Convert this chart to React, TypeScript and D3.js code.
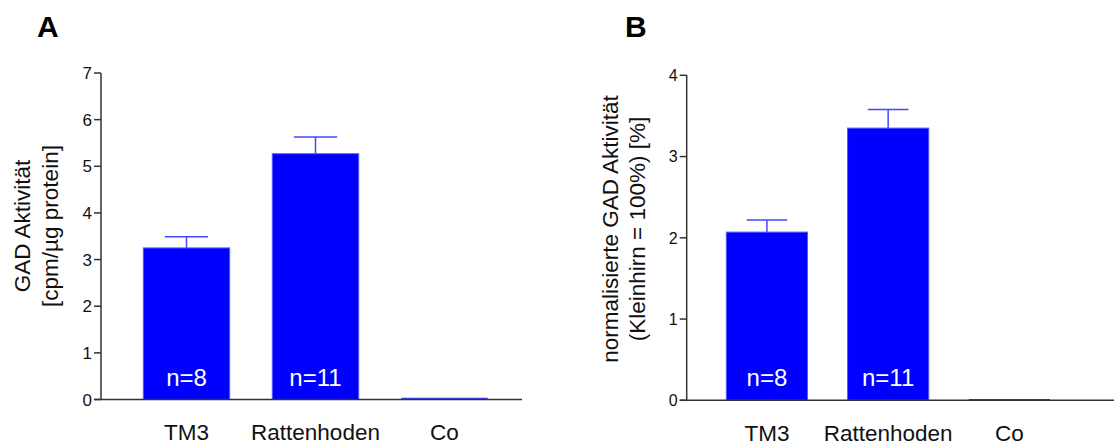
import React from "react";
import * as d3 from "d3";

// categories shared by both panels
const categories = ["TM3", "Rattenhoden", "Co"];
const nLabels = ["n=8", "n=11", ""];

// panel A: GAD activity [cpm/µg protein]
const valuesA = [3.25, 5.27, 0.02];
const errorsA = [0.24, 0.36, 0];
const ticksA = [0, 1, 2, 3, 4, 5, 6, 7];

// panel B: normalised GAD activity (Kleinhirn = 100%) [%]
const valuesB = [2.07, 3.35, 0.005];
const errorsB = [0.15, 0.23, 0];
const ticksB = [0, 1, 2, 3, 4];

const FONT = "Liberation Sans, Arial, Helvetica, sans-serif";
const BAR = "#0000ff";

type PanelProps = {
  letter: string;
  letterX: number;
  values: number[];
  errors: number[];
  ticks: number[];
  yMax: number;
  axisX: number;
  top: number;
  bottom: number;
  xRange: [number, number];
  axisEnd: number;
  tickFont: number;
  titleLines: string[];
  titleX: number[];
  titleY: number;
  catY: number;
  coColor: string;
};

function Panel(p: PanelProps) {
  const y = d3.scaleLinear().domain([0, p.yMax]).range([p.bottom, p.top]);
  const x = d3.scaleBand().domain(categories).range(p.xRange).paddingInner(0.33).paddingOuter(0);
  const bw = x.bandwidth();

  return (
    <g>
      <text x={p.letterX} y={37} fontSize={30} fontWeight="bold" fontFamily={FONT}>
        {p.letter}
      </text>

      {/* y title */}
      {p.titleLines.map((line, i) => (
        <text
          key={i}
          transform={`translate(${p.titleX[i]},${p.titleY}) rotate(-90)`}
          textAnchor="middle"
          fontSize={22.5}
          fontFamily={FONT}
          fill="#111"
        >
          {line}
        </text>
      ))}

      {/* bars */}
      {categories.map((c, i) => {
        const x0 = x(c)!;
        const yTop = y(p.values[i]);
        const h = p.bottom - yTop;
        const cx = x0 + bw / 2;
        if (c === "Co") {
          return (
            <line key={c} x1={x0} x2={x0 + bw} y1={yTop} y2={yTop} stroke={p.coColor} strokeWidth={1.5} />
          );
        }
        const yErr = y(p.values[i] + p.errors[i]);
        return (
          <g key={c}>
            <line x1={cx} x2={cx} y1={yTop} y2={yErr} stroke="#4646ff" strokeWidth={1.5} />
            <line x1={cx - bw / 4} x2={cx + bw / 4} y1={yErr} y2={yErr} stroke="#4646ff" strokeWidth={1.5} />
            <rect x={x0} y={yTop} width={bw} height={h} fill={BAR} stroke="#5a5aff" strokeWidth={1} />
            <text
              x={cx}
              y={p.bottom - 14}
              textAnchor="middle"
              fontSize={24}
              fill="#fff"
              fontFamily={FONT}
            >
              {nLabels[i]}
            </text>
          </g>
        );
      })}

      {/* y axis */}
      <line x1={p.axisX} x2={p.axisX} y1={p.top} y2={p.bottom} stroke="#333" strokeWidth={1.5} />
      {p.ticks.map((t) => (
        <g key={t}>
          <line x1={p.axisX - 7} x2={p.axisX} y1={y(t)} y2={y(t)} stroke="#333" strokeWidth={1.5} />
          <text
            x={p.axisX - 9}
            y={y(t)}
            dy="0.36em"
            textAnchor="end"
            fontSize={p.tickFont}
            fontFamily={FONT}
            fill="#111"
          >
            {t}
          </text>
        </g>
      ))}

      {/* x axis */}
      <line x1={p.axisX - 7} x2={p.axisEnd} y1={p.bottom} y2={p.bottom} stroke="#333" strokeWidth={1.5} />
      {categories.map((c) => (
        <text
          key={c}
          x={x(c)! + bw / 2}
          y={p.catY}
          textAnchor="middle"
          fontSize={22.5}
          fontFamily={FONT}
          fill="#111"
        >
          {c}
        </text>
      ))}
    </g>
  );
}

export default function App() {
  return (
    <svg width={1114} height={448} style={{ position: "absolute", left: 0, top: 0, background: "#fff" }}>
      <Panel
        letter="A"
        letterX={37}
        values={valuesA}
        errors={errorsA}
        ticks={ticksA}
        yMax={7}
        axisX={101}
        top={73}
        bottom={399.5}
        xRange={[143.3, 487.7]}
        axisEnd={522}
        tickFont={17}
        titleLines={["GAD Aktivität", "[cpm/µg protein]"]}
        titleX={[30, 58]}
        titleY={226}
        catY={440}
        coColor="#3c3cff"
      />
      <Panel
        letter="B"
        letterX={625}
        values={valuesB}
        errors={errorsB}
        ticks={ticksB}
        yMax={4}
        axisX={686.7}
        top={75.3}
        bottom={400.3}
        xRange={[726.3, 1050]}
        axisEnd={1114}
        tickFont={16}
        titleLines={["normalisierte GAD Aktivität", "(Kleinhirn = 100%) [%]"]}
        titleX={[618, 645]}
        titleY={229}
        catY={441}
        coColor="#00008b"
      />
    </svg>
  );
}
